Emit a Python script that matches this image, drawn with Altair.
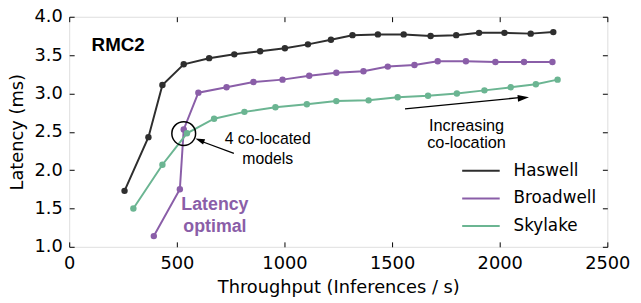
import altair as alt
import pandas as pd

# ---------------- data ----------------
series_names = ["Haswell", "Broadwell", "Skylake"]
series_colors = ["#2e2e2e", "#8a5ea8", "#6bb592"]

haswell_x = [257, 368, 433, 532, 650, 767, 887, 1002, 1109, 1216, 1316, 1434, 1554, 1679, 1798, 1904, 2022, 2144, 2249]
haswell_y = [1.73, 2.43, 3.11, 3.38, 3.46, 3.51, 3.55, 3.59, 3.64, 3.70, 3.76, 3.77, 3.77, 3.75, 3.76, 3.79, 3.79, 3.78, 3.80]

broadwell_x = [393, 514, 532, 600, 731, 856, 991, 1115, 1241, 1367, 1480, 1604, 1712, 1843, 1980, 2113, 2245]
broadwell_y = [1.14, 1.75, 2.53, 3.01, 3.08, 3.15, 3.18, 3.23, 3.27, 3.29, 3.35, 3.37, 3.42, 3.42, 3.41, 3.41, 3.41]

skylake_x = [298, 433, 547, 673, 814, 958, 1104, 1241, 1391, 1526, 1667, 1801, 1929, 2051, 2168, 2269]
skylake_y = [1.50, 2.07, 2.48, 2.67, 2.76, 2.82, 2.86, 2.90, 2.91, 2.95, 2.97, 3.00, 3.04, 3.08, 3.12, 3.18]

x_ticks = [0, 500, 1000, 1500, 2000, 2500]
y_ticks = [1.0, 1.5, 2.0, 2.5, 3.0, 3.5, 4.0]

rows = []
for name, xs, ys in [("Haswell", haswell_x, haswell_y),
                     ("Broadwell", broadwell_x, broadwell_y),
                     ("Skylake", skylake_x, skylake_y)]:
    for order, (a, b) in enumerate(zip(xs, ys)):
        rows.append({"series": name, "throughput": a, "latency": b, "order": order})
df = pd.DataFrame(rows)

XS = alt.Scale(domain=[0, 2500], nice=False, zero=False)
YS = alt.Scale(domain=[1.0, 4.0], nice=False, zero=False)
CS = alt.Scale(domain=series_names, range=series_colors)

TICK_FONT = "DejaVu Sans"
ANN_FONT = "Liberation Sans"

main_x_axis = alt.Axis(values=x_ticks, orient="bottom", title="Throughput (Inferences / s)",
                       format="d", labelFont=TICK_FONT, labelFontSize=18, labelColor="black",
                       titleFont=TICK_FONT, titleFontSize=18, titleFontWeight="normal",
                       titleColor="black", ticks=False, domain=False, grid=False,
                       labelPadding=8, titlePadding=6, labelFlush=False)
main_y_axis = alt.Axis(values=y_ticks, orient="left", title="Latency (ms)", format=".1f",
                       labelFont=TICK_FONT, labelFontSize=18, labelColor="black",
                       titleFont=TICK_FONT, titleFontSize=18, titleFontWeight="normal",
                       titleColor="black", ticks=False, domain=False, grid=False,
                       labelPadding=7, titlePadding=8, labelFlush=False)


def tick_axis(values, orient):
    return alt.Axis(values=values, orient=orient, labels=False, title=None, domain=False,
                    grid=False, ticks=True, tickSize=5, offset=-5, tickColor="black",
                    tickWidth=1)


base = alt.Chart(df)

lines = base.mark_line(strokeWidth=2).encode(
    x=alt.X("throughput:Q", scale=XS, axis=main_x_axis),
    y=alt.Y("latency:Q", scale=YS, axis=main_y_axis),
    color=alt.Color("series:N", scale=CS, sort=series_names,
                    legend=alt.Legend(title=None, orient="none", legendX=397, legendY=136,
                                      symbolType="stroke", symbolSize=1444,
                                      symbolStrokeWidth=2, labelFont=TICK_FONT,
                                      labelFontSize=17, labelColor="black",
                                      labelOffset=13, rowPadding=-2, padding=0)),
    order="order:Q",
)

points = base.mark_point(filled=True, size=42, opacity=1).encode(
    x=alt.X("throughput:Q", scale=XS, axis=None),
    y=alt.Y("latency:Q", scale=YS, axis=None),
    color=alt.Color("series:N", scale=CS, legend=None),
)

ticks_bl = base.mark_point(opacity=0).encode(
    x=alt.X("throughput:Q", scale=XS, axis=tick_axis(x_ticks, "bottom")),
    y=alt.Y("latency:Q", scale=YS, axis=tick_axis(y_ticks, "left")),
)
ticks_tr = base.mark_point(opacity=0).encode(
    x=alt.X("throughput:Q", scale=XS, axis=tick_axis(x_ticks, "top")),
    y=alt.Y("latency:Q", scale=YS, axis=tick_axis(y_ticks, "right")),
)


def text_layer(items, **style):
    d = pd.DataFrame(items)
    return alt.Chart(d).mark_text(**style).encode(
        x=alt.X("x:Q", scale=XS, axis=None),
        y=alt.Y("y:Q", scale=YS, axis=None),
        text="t:N",
    )


rmc2 = text_layer([{"x": 104, "y": 3.558, "t": "RMC2"}], font=ANN_FONT, fontSize=19,
                  fontWeight="bold", align="left", baseline="alphabetic", color="black")
colocated = text_layer([{"x": 922, "y": 2.339, "t": "4 co-located"},
                        {"x": 922, "y": 2.075, "t": "models"}],
                       font=ANN_FONT, fontSize=16, align="center", baseline="alphabetic",
                       color="black")
latency_opt = text_layer([{"x": 677, "y": 1.480, "t": "Latency"},
                          {"x": 677, "y": 1.197, "t": "optimal"}],
                         font=ANN_FONT, fontSize=18, fontWeight="bold", align="center",
                         baseline="alphabetic", color="#8a5ea8")
increasing = text_layer([{"x": 1846, "y": 2.513, "t": "Increasing"},
                         {"x": 1846, "y": 2.284, "t": "co-location"}],
                        font=ANN_FONT, fontSize=16.5, align="center", baseline="alphabetic",
                        color="black")

# ellipse marking the 4 co-located point
circle_df = pd.DataFrame([{"x": 532, "y": 2.477}])
circle = alt.Chart(circle_df).mark_point(shape="circle", size=580, filled=False,
                                         stroke="black", strokeWidth=1.5, opacity=1).encode(
    x=alt.X("x:Q", scale=XS, axis=None),
    y=alt.Y("y:Q", scale=YS, axis=None),
)

# arrows
arrow_df = pd.DataFrame([
    {"x": 765, "y": 2.219, "x2": 610, "y2": 2.380},
    {"x": 1560, "y": 2.799, "x2": 2090, "y2": 2.945},
])
arrow_lines = alt.Chart(arrow_df).mark_rule(color="black", strokeWidth=1.3).encode(
    x=alt.X("x:Q", scale=XS, axis=None),
    y=alt.Y("y:Q", scale=YS, axis=None),
    x2="x2:Q", y2="y2:Q",
)
HEAD = "M0,0L-0.6,2L0.6,2Z"
head1 = alt.Chart(pd.DataFrame([{"x": 586, "y": 2.4125}])).mark_point(
    shape=HEAD, size=90, filled=True, color="black", opacity=1, angle=291).encode(
    x=alt.X("x:Q", scale=XS, axis=None), y=alt.Y("y:Q", scale=YS, axis=None))
head2 = alt.Chart(pd.DataFrame([{"x": 2136, "y": 2.949}])).mark_point(
    shape=HEAD, size=130, filled=True, color="black", opacity=1, angle=85).encode(
    x=alt.X("x:Q", scale=XS, axis=None), y=alt.Y("y:Q", scale=YS, axis=None))

chart = alt.layer(
    lines, points, ticks_bl, ticks_tr, circle, arrow_lines, head1, head2,
    rmc2, colocated, latency_opt, increasing,
).resolve_axis(x="independent", y="independent").properties(
    width=545, height=233,
    padding={"left": 62, "top": 7, "right": 26, "bottom": 52},
    autosize=alt.AutoSizeParams(type="none"),
).configure_view(stroke="black", strokeWidth=1).configure(background="white")

chart.save("out.html", embed_options={"renderer": "svg", "actions": False})
